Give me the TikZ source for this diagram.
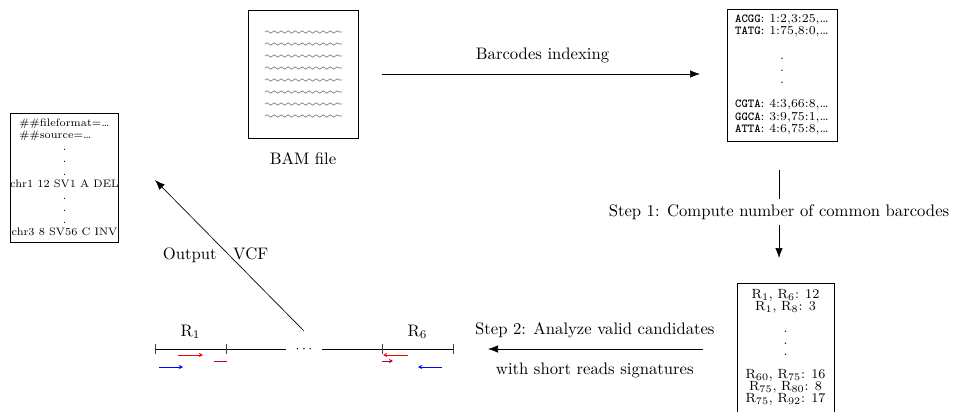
\documentclass[tikz,border=0pt]{standalone}
\usepackage{tikz}
\usetikzlibrary{positioning}
\usetikzlibrary{calc}
\usetikzlibrary{arrows.meta}
\usetikzlibrary{decorations.pathmorphing}

\begin{document}
\begin{tikzpicture}[
        x=0.6pt, y=-0.6pt,
        box/.style={draw, align=center, inner sep=0pt},
        arrow/.style={-{Latex[length=6pt, width=4.5pt]}},
        wave/.style={gray, decorate, decoration={snake, segment length=4.2pt, amplitude=0.7pt}},
        read/.style={semithick, -{Stealth[length=2.5pt, width=2.5pt]}},
        tick/.style={darkgray},
        boxfont/.style={font=\fontsize{7.3}{7.3}\selectfont}
    ]
        \useasboundingbox (0,0) rectangle (954,412);

        % files
        \node[box, font=\fontsize{6.5}{7.3}\selectfont, minimum width=64.2pt, minimum height=77.4pt] (vcf) at (64.5,177.5)
            {\#\#fileformat=\ldots\\ \rlap{\#\#source=\ldots}\phantom{\#\#fileformat=\ldots}\\ .\\ .\\ .\\
             chr1 12 SV1 A DEL\\ .\\ .\\ .\\ chr3 8 SV56 C INV};
        \node[box, minimum width=66pt, minimum height=76.8pt] (bam) at (303,74) {};
        \foreach \y in {0,...,7}
            \draw[wave] (265,32+12*\y) -- (342,32+12*\y);
        \node[below=5pt of bam] (bamlabel) {BAM file};

        \node[box, boxfont, minimum width=66pt, minimum height=79.2pt] (barcodes) at (782,75)
            {\begin{tabular}{@{}l@{}}
                \texttt{\textbf{ACGG}}: 1:2,3:25,\ldots\\
                \texttt{\textbf{TATG}}: 1:75,8:0,\ldots\\
                \\ \multicolumn{1}{c}{.}\\ \multicolumn{1}{c}{.}\\ \multicolumn{1}{c}{.}\\ \\
                \texttt{\textbf{CGTA}}: 4:3,66:8,\ldots\\
                \texttt{\textbf{GGCA}}: 3:9,75:1,\ldots\\
                \texttt{\textbf{ATTA}}: 4:6,75:8,\ldots
            \end{tabular}};

        \node[box, anchor=north, minimum width=58.2pt, inner ysep=3.5pt,
              font={\fontsize{8}{6.8}\selectfont\lineskip=0.2pt}] (pairs) at (785.5,283)
            {R$_1$, R$_6$: 12\\ R$_1$, R$_8$: 3\\ \\ .\\ .\\ .\\ \\
             R$_{60}$, R$_{75}$: 16\\ R$_{75}$, R$_{80}$: 8\\ R$_{75}$, R$_{92}$: 17\\[20pt]};

        % genome
        \coordinate (t1) at (155,349);
        \coordinate (t2) at (226,349);
        \coordinate (t3) at (382,349);
        \coordinate (t4) at (453,349);
        \node[inner xsep=5.5pt, inner ysep=1pt, font=\footnotesize] (gap) at (304,349) {$\cdots$};
        \draw[semithick] (t1) -- (gap.west);
        \draw[semithick] (gap.east) -- (t4);
        \foreach \t in {t1,t2,t3,t4}
            \draw[tick] ([yshift=3pt]\t) -- ([yshift=-3pt]\t);
        \node[above=2.5pt] (r1) at ($(t1)!0.5!(t2)$) {R$_1$};
        \node[above=2.5pt] (r6) at ($(t3)!0.5!(t4)$) {R$_6$};

        % reads
        \draw[read, red] (178,355) -- (203,355);
        \draw[semithick, purple] (214,361) -- (227,361);
        \draw[read, blue] (159,367) -- (183,367);
        \draw[read, red] (408,355) -- (383,355);
        \draw[read, purple] (382,361) -- (393,361);
        \draw[read, blue] (442,367) -- (418,367);

        % steps
        \coordinate (vcfout) at (304,331);
        \coordinate (vcfin) at (155,180);
        \draw[arrow] (vcfout) -- node[xshift=-8.4pt] {Output\quad VCF} (vcfin);

        \draw[arrow, shorten <=14.4pt, shorten >=16pt] (bam.east |- 0,74) -- node[above=3pt] {Barcodes indexing} (barcodes.west |- 0,74);

        \draw[arrow, shorten <=17.4pt, shorten >=15pt] (barcodes.south -| 779,0) --
            node[fill=white] {Step 1: Compute number of common barcodes} (pairs.north -| 779,0);

        \draw[arrow, shorten <=20pt, shorten >=21pt] (pairs.west |- 0,349) --
            node[above=3pt] {Step 2: Analyze valid candidates}
            node[below=5pt] {with short reads signatures} (t4);
    \end{tikzpicture}
\end{document}
